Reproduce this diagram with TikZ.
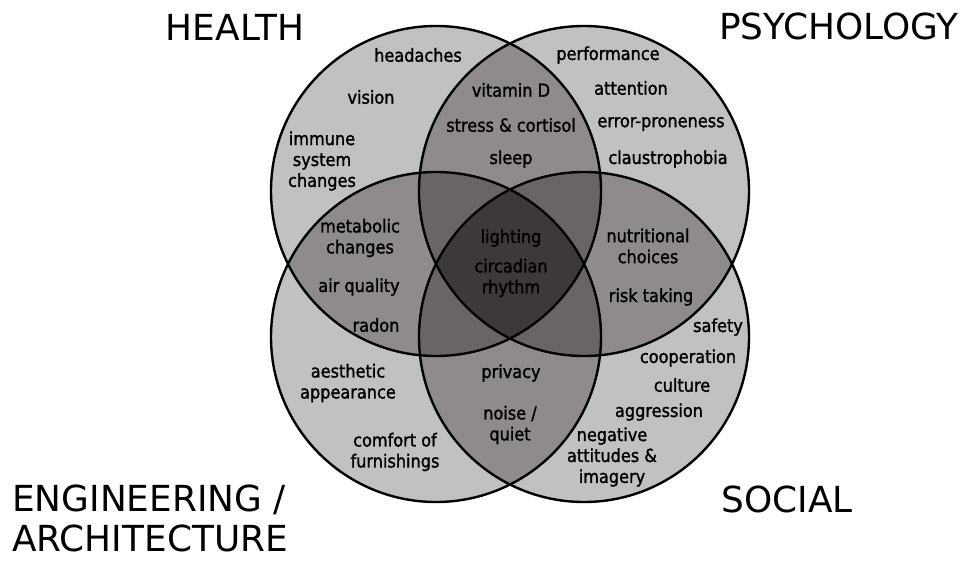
\documentclass[tikz,border=0pt]{standalone}
\usepackage{fontspec}
\setmainfont{DejaVu Sans}
\newfontfamily\lblfont{DejaVu Sans Condensed}[FakeBold=1.5]
\definecolor{vennone}{RGB}{194,193,193}
\definecolor{venntwo}{RGB}{143,139,139}
\definecolor{vennthree}{RGB}{106,101,101}
\definecolor{vennfour}{RGB}{62,57,57}
\newcommand\vennr{165bp}
\tikzset{
  lbl/.style={font=\lblfont\fontsize{18}{21}\selectfont, align=center, inner sep=0pt},
  ttl/.style={font=\fontsize{36}{40}\selectfont, inner sep=0pt},
  ring/.style={draw=black, line width=2.4bp},
}

\begin{document}
\begin{tikzpicture}[x=1bp,y=-1bp]
\useasboundingbox (0,0) rectangle (969,565);
\coordinate (hc) at (436,191);
\coordinate (pc) at (584,191);
\coordinate (ec) at (436,337);
\coordinate (sc) at (584,337);
\foreach \a in {hc,pc,ec,sc}
  \fill[vennone] (\a) circle[radius=\vennr];
\foreach \a/\b in {hc/pc,hc/ec,hc/sc,pc/ec,pc/sc,ec/sc}{
  \begin{scope}
    \clip (\a) circle[radius=\vennr];
    \fill[venntwo] (\b) circle[radius=\vennr];
  \end{scope}
}
\foreach \a/\b/\c in {hc/pc/ec,hc/pc/sc,hc/ec/sc,pc/ec/sc}{
  \begin{scope}
    \clip (\a) circle[radius=\vennr];
    \clip (\b) circle[radius=\vennr];
    \fill[vennthree] (\c) circle[radius=\vennr];
  \end{scope}
}
\begin{scope}
  \clip (hc) circle[radius=\vennr];
  \clip (pc) circle[radius=\vennr];
  \clip (ec) circle[radius=\vennr];
  \fill[vennfour] (sc) circle[radius=\vennr];
\end{scope}
\foreach \a in {hc,pc,ec,sc}
  \draw[ring] (\a) circle[radius=\vennr];

\node[ttl, anchor=base] (health) at (235,41) {HEALTH};
\node[ttl, anchor=base] (psych) at (839,40) {PSYCHOLOGY};
\node[ttl, anchor=base west] (eng) at (12,511) {ENGINEERING /};
\node[ttl, anchor=base west] (arch) at (12,551) {ARCHITECTURE};
\node[ttl, anchor=base] (social) at (787,512) {SOCIAL};

\node[lbl] (headaches) at (418,55) {headaches};
\node[lbl] (vision) at (371,97) {vision};
\node[lbl] (immune) at (322,161) {immune\\system\\changes};
\node[lbl] (vitd) at (511,90) {vitamin D};
\node[lbl] (stress) at (511,125) {stress \& cortisol};
\node[lbl] (sleep) at (511,159) {sleep};
\node[lbl] (perf) at (608,55) {performance};
\node[lbl] (attn) at (631,88) {attention};
\node[lbl] (error) at (661,124) {error-proneness};
\node[lbl] (claus) at (668,159) {claustrophobia};
\node[lbl] (metab) at (360,238) {metabolic\\changes};
\node[lbl] (air) at (359,287) {air quality};
\node[lbl] (radon) at (376,325) {radon};
\node[lbl] (light) at (511,238) {lighting};
\node[lbl] (circ) at (511,278) {circadian\\rhythm};
\node[lbl] (nutri) at (648,246) {nutritional\\choices};
\node[lbl] (risk) at (651,297) {risk taking};
\node[lbl] (safety) at (718,327) {safety};
\node[lbl] (coop) at (688,358) {cooperation};
\node[lbl] (culture) at (682,385) {culture};
\node[lbl] (aggr) at (659,412) {aggression};
\node[lbl] (neg) at (612,457) {negative\\attitudes \&\\imagery};
\node[lbl] (aesth) at (348,383) {aesthetic\\appearance};
\node[lbl] (comfort) at (395,452) {comfort of\\furnishings};
\node[lbl] (privacy) at (511,373) {privacy};
\node[lbl] (noise) at (510,425) {noise /\\quiet};
\end{tikzpicture}
\end{document}
